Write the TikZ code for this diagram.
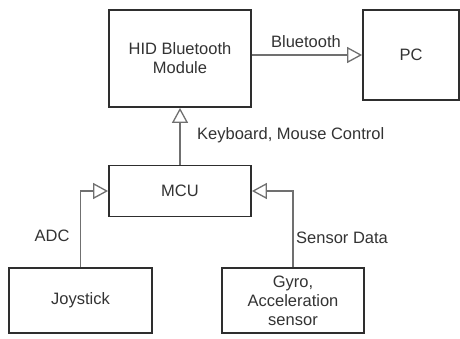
\documentclass[tikz,border=0pt]{standalone}
\usepackage{fontspec}
\setmainfont{Liberation Sans}
\usetikzlibrary{arrows.meta}
\definecolor{boxline}{HTML}{2E2E2E}
\definecolor{conn}{HTML}{707070}
\definecolor{txt}{HTML}{333333}
\begin{document}
\begin{tikzpicture}[x=1pt,y=-1pt,
  blk/.style={draw=boxline,line width=1.8pt,fill=white,align=center,text=txt,
    font=\fontsize{16.5}{19}\selectfont,inner sep=0pt},
  link/.style={draw=conn,line width=1.4pt,-{Triangle[open,length=15pt,width=16pt,line width=1.3pt]}},
  lbl/.style={text=txt,font=\fontsize{16.5}{19}\selectfont,inner sep=0pt}]
\useasboundingbox (0,0) rectangle (460,338);
\node[blk,minimum width=142pt,minimum height=97pt] (hid) at (180,58.5) {HID Bluetooth\\Module};
\node[blk,minimum width=96pt,minimum height=90pt] (pc) at (411,55) {PC};
\node[blk,minimum width=142pt,minimum height=51pt] (mcu) at (180,191) {MCU};
\node[blk,minimum width=143pt,minimum height=65pt] (joy) at (80.5,300.5) {Joystick};
\node[blk,minimum width=142pt,minimum height=65pt] (gyro) at (293,300.5) {Gyro,\\Acceleration\\sensor};
\draw[link] (hid.east |- pc.west) -- (pc.west);
\draw[link] (mcu.north) -- (hid.south);
\draw[link] (joy.north) |- (mcu.west);
\draw[link] (gyro.north) |- (mcu.east);
\node[lbl] (lbt) at (306,42) {Bluetooth};
\node[lbl,anchor=west] (lkb) at (197,135) {Keyboard, Mouse Control};
\node[lbl] (ladc) at (52,236) {ADC};
\node[lbl,anchor=west] (lsd) at (296,238) {Sensor Data};
\end{tikzpicture}
\end{document}
